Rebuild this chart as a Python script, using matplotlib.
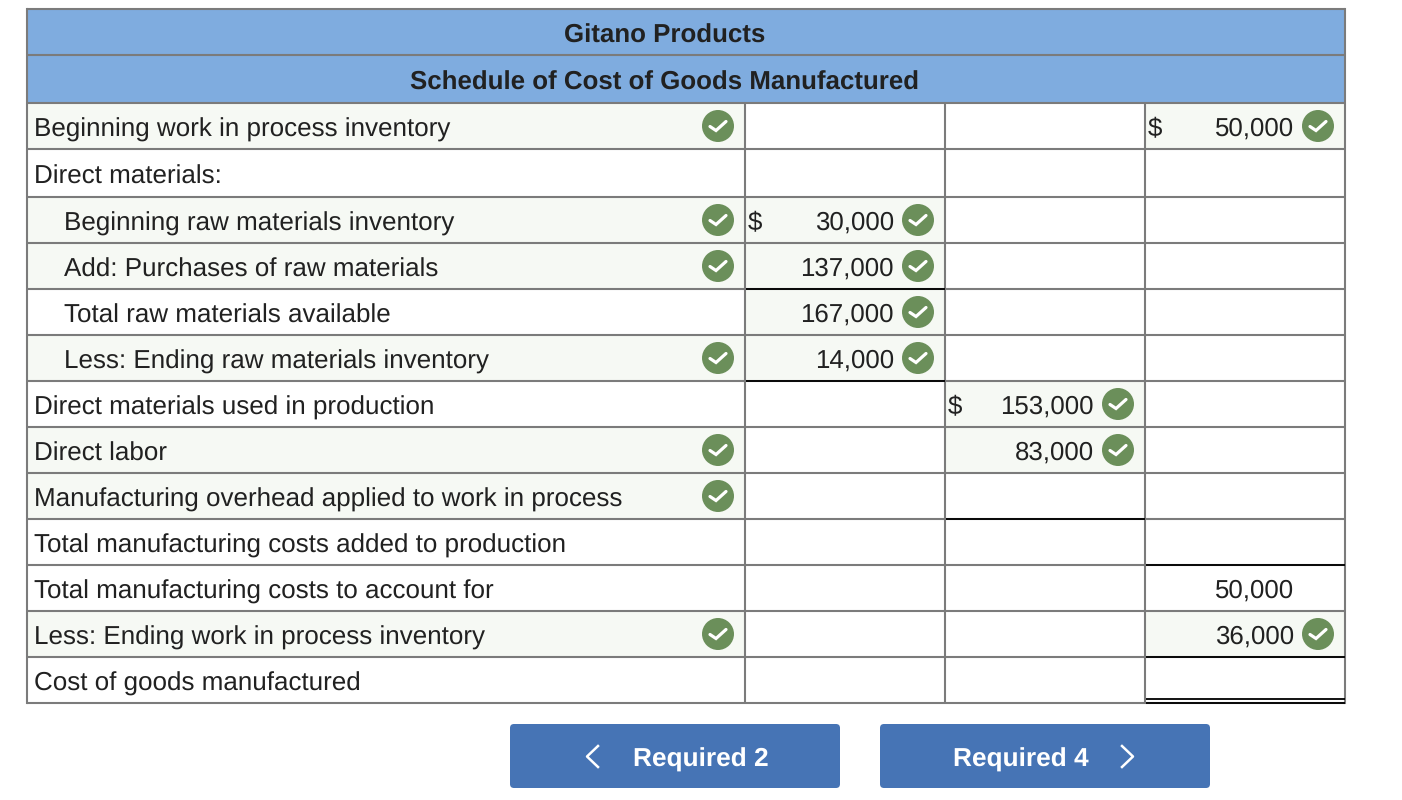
#!/usr/bin/env python3
# Gitano Products schedule, drawn in pixel coordinates of the screenshot.
import matplotlib
matplotlib.use("Agg")
import matplotlib.pyplot as plt
from matplotlib.patches import Circle, FancyBboxPatch, Rectangle

plt.rcParams['font.family'] = ['Liberation Sans', 'DejaVu Sans']
plt.rcParams['text.hinting'] = 'no_hinting'

# Table content
titles = ["Gitano Products", "Schedule of Cost of Goods Manufactured"]
labels = [
    "Beginning work in process inventory",
    "Direct materials:",
    "Beginning raw materials inventory",
    "Add: Purchases of raw materials",
    "Total raw materials available",
    "Less: Ending raw materials inventory",
    "Direct materials used in production",
    "Direct labor",
    "Manufacturing overhead applied to work in process",
    "Total manufacturing costs added to production",
    "Total manufacturing costs to account for",
    "Less: Ending work in process inventory",
    "Cost of goods manufactured",
]
indented = [2, 3, 4, 5]
label_checks = [0, 2, 3, 5, 7, 8, 11]
col1_values = {2: "30,000", 3: "137,000", 4: "167,000", 5: "14,000"}
col2_values = {6: "153,000", 7: "83,000"}
col3_values = {0: "50,000", 10: "50,000", 11: "36,000"}
dollar_rows = {1: [2], 2: [6], 3: [0]}
checked_values = {1: [2, 3, 4, 5], 2: [6, 7], 3: [0, 11]}
button_texts = ["Required 2", "Required 4"]

# Layout
row_y = [9, 55, 103, 149, 197, 243, 289, 335, 381, 427, 473, 519, 565, 611, 657, 703]
col_x = [27, 745, 945, 1145, 1345]
grid = "#7b7b7b"
header_blue = "#7facdf"
shade = "#f6f9f4"
green = "#6b8f5a"
text_color = "#212121"
button_blue = "#4674b5"
font_size = 18.6
baseline_shift = 10
label_shift = 10.7

fig = plt.figure(figsize=(14.02, 8), dpi=100)
ax = fig.add_axes([0, 0, 1, 1])
ax.set_xlim(0, 1402)
ax.set_ylim(800, 0)
ax.axis("off")


def fill(x0, x1, y0, y1, color):
    ax.add_patch(Rectangle((x0, y0), x1 - x0, y1 - y0, fc=color, ec="none", zorder=1))


def check(cx, cy):
    ax.add_patch(Circle((cx, cy), 16, fc=green, ec="none", zorder=3))
    ax.plot([cx - 8, cx - 2, cx + 8], [cy + 0.5, cy + 4.5, cy - 4.5], color="white",
            lw=2.3, solid_capstyle="round", solid_joinstyle="miter", zorder=4)


# Header
fill(col_x[0], col_x[-1], row_y[0], row_y[2], header_blue)
for i, title in enumerate(titles):
    ax.text(664.5, (row_y[i] + row_y[i + 1]) / 2 + label_shift, title, ha="center",
            va="baseline", fontsize=font_size, fontweight="bold", color=text_color, zorder=5)

# Body
for i, label in enumerate(labels):
    top, bottom = row_y[i + 2], row_y[i + 3]
    mid = (top + bottom) / 2
    if i in label_checks:
        fill(col_x[0], col_x[1], top, bottom, shade)
        check(718, mid)
    x = 64 if i in indented else 34
    ax.text(x, mid + label_shift, label, ha="left", va="baseline", fontsize=18.7,
            color=text_color, zorder=5)

for c, values in enumerate([col1_values, col2_values, col3_values], start=1):
    for i, value in values.items():
        top, bottom = row_y[i + 2], row_y[i + 3]
        mid = (top + bottom) / 2
        if i in checked_values[c]:
            fill(col_x[c], col_x[c + 1], top, bottom, shade)
            check(col_x[c + 1] - 27, mid)
        ax.text(col_x[c + 1] - 51, mid + baseline_shift, value, ha="right", va="baseline",
                fontsize=font_size, color=text_color, zorder=5)
        if i in dollar_rows[c]:
            ax.text(col_x[c] + 3, mid + baseline_shift, "$", ha="left", va="baseline",
                    fontsize=font_size, color=text_color, zorder=5)

# Grid lines
for y in row_y:
    ax.plot([col_x[0], col_x[-1]], [y, y], color=grid, lw=1.5, solid_capstyle="butt", zorder=2)
ax.plot([col_x[0], col_x[0]], [row_y[0], row_y[-1]], color=grid, lw=1.5, zorder=2)
ax.plot([col_x[-1], col_x[-1]], [row_y[0], row_y[-1]], color=grid, lw=1.5, zorder=2)
for x in col_x[1:-1]:
    ax.plot([x, x], [row_y[2], row_y[-1]], color=grid, lw=1.5, solid_capstyle="butt", zorder=2)

# Subtotal rules
for c, y in [(1, 289), (1, 381), (2, 519), (3, 565), (3, 657), (3, 699), (3, 703)]:
    ax.plot([col_x[c] + 1, col_x[c + 1]], [y, y], color="black", lw=1.3, solid_capstyle="butt", zorder=3)

# Buttons
for x0 in [510, 880]:
    ax.add_patch(FancyBboxPatch((x0, 724), 330, 64, boxstyle="round,pad=0,rounding_size=4",
                                fc=button_blue, ec="none", zorder=1))
ax.text(700.5, 766.5, button_texts[0], ha="center", va="baseline", fontsize=18.9,
        fontweight="bold", color="white")
ax.text(1020.5, 766.5, button_texts[1], ha="center", va="baseline", fontsize=18.9,
        fontweight="bold", color="white")
ax.plot([598, 587, 598], [746, 756.5, 767], color="white", lw=1.8, zorder=4)
ax.plot([1122, 1133, 1122], [746, 756.5, 767], color="white", lw=1.8, zorder=4)

fig.savefig("out.png", dpi=100)
